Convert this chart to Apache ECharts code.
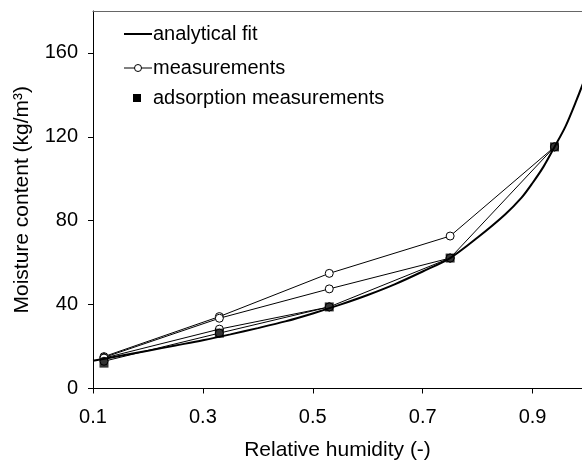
<!DOCTYPE html>
<html>
<head>
<meta charset="utf-8">
<script src="https://cdn.jsdelivr.net/npm/echarts@6/dist/echarts.min.js"></script>
<style>html,body{margin:0;padding:0;background:#fff}#c{width:582px;height:468px}</style>
</head>
<body>
<div id="c"></div>
<script>
// Analytical fit curve
const fitX = [0.1, 0.15, 0.2, 0.25, 0.3, 0.35, 0.4, 0.45, 0.5, 0.55, 0.6, 0.65, 0.7, 0.75, 0.8, 0.85, 0.88, 0.9, 0.92, 0.94, 0.96, 0.98, 1.0];
const fitY = [13.2, 15.6, 18.0, 20.5, 23.0, 25.8, 28.8, 32.0, 35.8, 40.0, 44.6, 49.8, 55.8, 62.2, 72, 83, 91, 98, 105.8, 115.2, 125, 137.5, 151];
// Measurement series (open circles)
const m1X = [0.12, 0.33, 0.53, 0.75, 0.94];
const m1Y = [15.2, 34.3, 54.9, 72.7, 115.2];
const m2X = [0.12, 0.33, 0.53, 0.75];
const m2Y = [14.8, 33.5, 47.5, 62.2];
const m3X = [0.12, 0.33, 0.53];
const m3Y = [14.5, 28.3, 38.9];
const m4X = [0.12, 0.33, 0.53, 0.75, 0.94];
const m4Y = [13.0, 26.4, 38.9, 62.2, 115.2];
// Adsorption measurements (filled squares)
const adsX = [0.12, 0.33, 0.53, 0.75, 0.94];
const adsY = [12.1, 26.4, 38.9, 62.2, 115.2];
const xTicks = [0.1, 0.3, 0.5, 0.7, 0.9];
const yTicks = [0, 40, 80, 120, 160];
const legendNames = ['analytical fit', 'measurements', 'adsorption measurements'];

const zip = (xs, ys) => xs.map((x, i) => [x, ys[i]]);
const FONT = 'Arial, "Liberation Sans", sans-serif';
const chart = echarts.init(document.getElementById('c'), null, {renderer: 'canvas'});

function measSeries(xs, ys) {
  return {
    name: legendNames[1], type: 'line', data: zip(xs, ys),
    symbol: 'circle', symbolSize: 8, showAllSymbol: true,
    lineStyle: {color: '#000', width: 1},
    itemStyle: {color: '#fff', borderColor: '#000', borderWidth: 1},
    z: 3, animation: false
  };
}

// legend drawn as graphics
const legX0 = 124, legX1 = 152, legTx = 153;
const rows = [34, 68, 98];
const legendGraphics = [
  {type: 'line', shape: {x1: legX0, y1: rows[0], x2: legX1, y2: rows[0]}, style: {stroke: '#000', lineWidth: 2}},
  {type: 'line', shape: {x1: legX0, y1: rows[1], x2: legX1, y2: rows[1]}, style: {stroke: '#000', lineWidth: 1}},
  {type: 'circle', shape: {cx: 138, cy: rows[1], r: 3.5}, style: {fill: '#fff', stroke: '#000', lineWidth: 1}},
  {type: 'rect', shape: {x: 133, y: rows[2] - 4, width: 8, height: 8}, style: {fill: '#000'}}
].concat(legendNames.map((n, i) => ({
  type: 'text', x: legTx, y: rows[i],
  style: {text: n, font: '20px ' + FONT, fill: '#000', textVerticalAlign: 'middle', verticalAlign: 'middle'}
})));

chart.setOption({
  animation: false,
  backgroundColor: '#fff',
  grid: {left: 93, right: 0, top: 11, bottom: 79.5, containLabel: false},
  graphic: legendGraphics,
  xAxis: [{
    type: 'value', min: 0.1, max: 0.99, interval: 0.2,
    name: 'Relative humidity (-)', nameLocation: 'middle', nameGap: 51,
    nameTextStyle: {fontFamily: FONT, fontSize: 21, color: '#000'},
    axisLine: {show: true, onZero: false, lineStyle: {color: '#000', width: 1}},
    axisTick: {show: true, length: 5, lineStyle: {color: '#000'}},
    axisLabel: {fontFamily: FONT, fontSize: 20, color: '#000', margin: 19, showMaxLabel: false,
      formatter: v => (xTicks.some(t => Math.abs(t - v) < 1e-6) ? v.toFixed(1) : '')},
    splitLine: {show: false}
  }, {
    type: 'value', position: 'top', min: 0.1, max: 0.99,
    axisLine: {show: true, onZero: false, lineStyle: {color: '#666', width: 1.2}},
    axisTick: {show: false}, axisLabel: {show: false}, splitLine: {show: false}
  }],
  yAxis: {
    type: 'value', min: 0, max: 180, interval: 40,
    name: 'Moisture content (kg/m³)', nameLocation: 'middle', nameGap: 60, nameRotate: 90,
    nameTextStyle: {fontFamily: FONT, fontSize: 21, color: '#000'},
    axisLine: {show: true, lineStyle: {color: '#000', width: 1}},
    axisTick: {show: true, length: 5, lineStyle: {color: '#000'}},
    axisLabel: {fontFamily: FONT, fontSize: 20, color: '#000', margin: 15, showMaxLabel: false,
      formatter: v => (yTicks.includes(v) ? String(v) : '')},
    splitLine: {show: false}
  },
  series: [
    {
      name: legendNames[0], type: 'line', data: zip(fitX, fitY), smooth: 0.3,
      symbol: 'none', lineStyle: {color: '#000', width: 2}, itemStyle: {color: '#000'}, z: 4
    },
    measSeries(m1X, m1Y),
    measSeries(m2X, m2Y),
    measSeries(m3X, m3Y),
    measSeries(m4X, m4Y),
    {
      name: legendNames[2], type: 'scatter', data: zip(adsX, adsY),
      symbol: 'rect', symbolSize: 9, itemStyle: {color: '#000'}, z: 6
    }
  ]
});
</script>
</body>
</html>
